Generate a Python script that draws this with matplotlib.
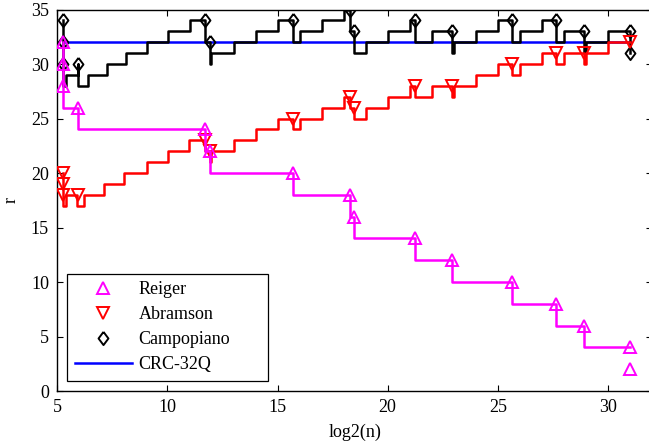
import numpy as np
import matplotlib
matplotlib.use('Agg')
import matplotlib.pyplot as plt
from matplotlib.lines import Line2D

plt.rcParams['font.family'] = ['Liberation Serif', 'DejaVu Serif']

# Reiger: step line (where='post') and marker points
reiger_x = [5.26, 5.26, 5.93, 11.72, 11.95, 15.69, 18.27, 18.45, 21.25, 22.9, 25.64, 27.62, 28.9, 30.98]
reiger_y = [32, 26, 24, 22, 20, 18, 16, 14, 12, 10, 8, 6, 4, 4]
reiger_mx = [5.26, 5.26, 5.26, 5.93, 11.72, 11.95, 15.69, 18.27, 18.45, 21.25, 22.9, 25.64, 27.62, 28.9, 30.98, 30.98]
reiger_my = [32, 30, 28, 26, 24, 22, 20, 18, 16, 14, 12, 10, 8, 6, 4, 2]

# Abramson
abram_x = [5.26, 5.26, 5.4, 5.9, 6.2, 7.1, 8.05, 9.05, 10.02, 10.98, 11.72, 11.95, 12.0, 13.0,
           14.0, 15.0, 15.69, 16.0, 17.0, 18.0, 18.27, 18.45, 19.0, 20.0, 21.0, 21.25, 22.0,
           22.9, 23.0, 24.0, 25.0, 25.64, 26.0, 27.0, 27.62, 28.0, 28.9, 29.0, 30.0, 30.98]
abram_y = [20, 17, 18, 17, 18, 19, 20, 21, 22, 23, 22, 21, 22, 23,
           24, 25, 24, 25, 26, 27, 26, 25, 26, 27, 28, 27, 28,
           27, 28, 29, 30, 29, 30, 31, 30, 31, 30, 31, 32, 32]
abram_mx = [5.26, 5.26, 5.26, 5.93, 11.72, 11.95, 15.69, 18.27, 18.45, 21.25, 22.9, 25.64, 27.62, 28.9, 30.98]
abram_my = [20, 19, 18, 18, 23, 22, 25, 27, 26, 28, 28, 30, 31, 31, 32]

# Campopiano
campo_x = [5.26, 5.26, 5.4, 5.93, 5.93, 6.41, 7.25, 8.13, 9.07, 10.01, 11.01, 11.72, 11.95, 12.0,
           13.0, 14.0, 15.0, 15.69, 16.0, 17.0, 18.0, 18.27, 18.45, 19.0, 20.0, 21.0, 21.25,
           22.0, 22.9, 23.0, 24.0, 25.0, 25.64, 26.0, 27.0, 27.62, 28.0, 28.9, 29.0, 30.0,
           30.98, 30.98]
campo_y = [34, 28, 29, 30, 28, 29, 30, 31, 32, 33, 34, 32, 30, 31,
           32, 33, 34, 32, 33, 34, 35, 33, 31, 32, 33, 34, 32,
           33, 31, 32, 33, 34, 32, 33, 34, 32, 33, 31, 32, 33,
           31, 31]
campo_mx = [5.26, 5.26, 5.26, 5.93, 11.72, 11.95, 15.69, 18.27, 18.45, 21.25, 22.9, 25.64, 27.62, 28.9, 30.98, 30.98]
campo_my = [34, 32, 30, 30, 34, 32, 34, 35, 33, 34, 33, 34, 34, 33, 33, 31]

# CRC-32Q
crc_x = [5.26, 30.98]
crc_y = [32, 32]

diamond = [(0, 1), (0.75, 0), (0, -1), (-0.75, 0), (0, 1)]
fs = 13

fig = plt.figure(figsize=(6.49, 4.45), dpi=100)
ax = fig.add_axes([0.0883, 0.1213, 0.9163, 0.8573])

lw = 1.8
ax.plot(crc_x, crc_y, color='#0000FF', linewidth=lw, zorder=2)
ax.step(campo_x, campo_y, where='post', color='black', linewidth=lw, zorder=3)
ax.plot(campo_mx, campo_my, linestyle='none', marker=diamond, markersize=9.5,
        markerfacecolor='none', markeredgecolor='black', markeredgewidth=1.4, zorder=3)
ax.step(abram_x, abram_y, where='post', color='#FF0000', linewidth=lw, zorder=4)
ax.plot(abram_mx, abram_my, linestyle='none', marker='v', markersize=8.5,
        markerfacecolor='none', markeredgecolor='#FF0000', markeredgewidth=1.4, zorder=4)
ax.step(reiger_x, reiger_y, where='post', color='#FF00FF', linewidth=lw, zorder=5)
ax.plot(reiger_mx, reiger_my, linestyle='none', marker='^', markersize=8.5,
        markerfacecolor='none', markeredgecolor='#FF00FF', markeredgewidth=1.4, zorder=5)

ax.set_xlim(5, 32)
ax.set_ylim(0, 35)
ax.set_xticks([5, 10, 15, 20, 25, 30])
ax.set_yticks([0, 5, 10, 15, 20, 25, 30, 35])
ax.tick_params(direction='in', length=4, width=0.8, labelsize=fs, top=True, right=True, pad=6)
for s in ax.spines.values():
    s.set_linewidth(1.0)
ax.set_xlabel('log2(n)', fontsize=fs, labelpad=5)
ax.set_ylabel('r', fontsize=fs, labelpad=8)

handles = [
    Line2D([], [], linestyle='none', marker='^', markersize=8.5, markerfacecolor='none',
           markeredgecolor='#FF00FF', markeredgewidth=1.4),
    Line2D([], [], linestyle='none', marker='v', markersize=8.5, markerfacecolor='none',
           markeredgecolor='#FF0000', markeredgewidth=1.4),
    Line2D([], [], linestyle='none', marker=diamond, markersize=9.5, markerfacecolor='none',
           markeredgecolor='black', markeredgewidth=1.4),
    Line2D([], [], color='#0000FF', linewidth=lw),
]
labels = ['Reiger', 'Abramson', 'Campopiano', 'CRC-32Q']
# legend box stretched to the width used in the original
leg = ax.legend(handles, labels, loc='lower left', bbox_to_anchor=(0.0168, 0.027, 0.338, 0.28),
                mode='expand', borderaxespad=0, fontsize=fs, handlelength=3.2, handletextpad=0.35,
                labelspacing=0.45, borderpad=0.4, fancybox=False, framealpha=1)
leg.get_frame().set_edgecolor('black')
leg.get_frame().set_linewidth(0.9)

fig.savefig('out.png', dpi=100)
